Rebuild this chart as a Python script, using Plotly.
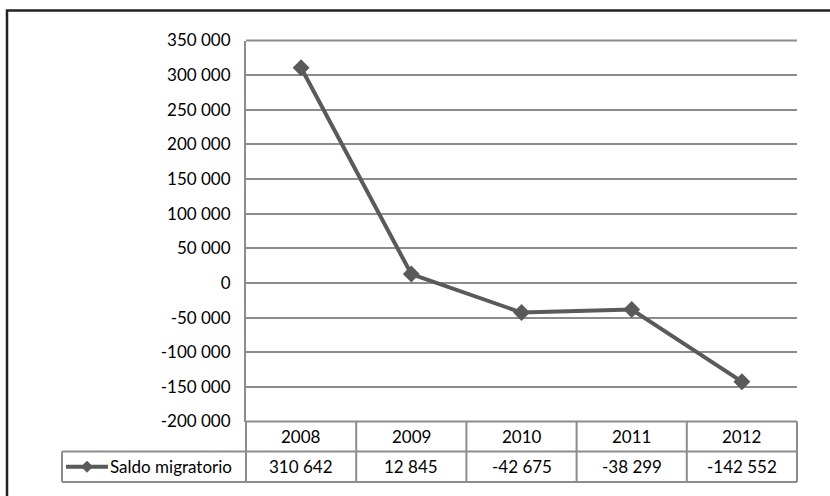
import plotly.graph_objects as go

# Net migration balance by year
years = ["2008", "2009", "2010", "2011", "2012"]
saldo = [310642, 12845, -42675, -38299, -142552]
series_name = "Saldo migratorio"
tick_vals = [350000, 300000, 250000, 200000, 150000, 100000, 50000, 0,
             -50000, -100000, -150000, -200000]

W, H = 830, 496
FONT = "Lato"
FSIZE = 17
LINE_C = "#5a5a5a"
GRID_C = "#8c8c8c"


def fmt(v):
    s = f"{abs(v):,}".replace(",", " ")
    return ("-" if v < 0 else "") + s


def px(x):
    return x / W


def py(y):
    return 1 - y / H


# plot-area pixel box
L, R, T, B = 246, 797, 40.5, 421.5
ROW1, ROW2 = 451.5, 482.0
LEG_L = 62

fig = go.Figure()
fig.add_trace(go.Scatter(
    x=list(range(len(years))), y=saldo, mode="lines+markers",
    line=dict(color=LINE_C, width=4),
    marker=dict(symbol="diamond", size=13, color=LINE_C),
    name=series_name, showlegend=False, hoverinfo="skip",
))

shapes = []
# outer chart frame (top and left edges visible)
shapes.append(dict(type="rect", xref="paper", yref="paper",
                   x0=px(7), x1=px(W + 20), y0=py(H + 20), y1=py(10.5),
                   line=dict(color="#222222", width=2.5)))

tl = dict(color=GRID_C, width=2)
# top gridline of the plot area
shapes.append(dict(type="line", xref="paper", yref="paper",
                   x0=px(L), x1=px(R), y0=py(T), y1=py(T), line=tl))

# data table grid
col_w = (R - L) / len(years)
shapes.append(dict(type="line", xref="paper", yref="paper",
                   x0=px(L), x1=px(R), y0=py(B), y1=py(B), line=tl))
shapes.append(dict(type="line", xref="paper", yref="paper",
                   x0=px(L), x1=px(R), y0=py(ROW1), y1=py(ROW1), line=tl))
shapes.append(dict(type="line", xref="paper", yref="paper",
                   x0=px(LEG_L), x1=px(L), y0=py(ROW1), y1=py(ROW1), line=tl))
shapes.append(dict(type="line", xref="paper", yref="paper",
                   x0=px(LEG_L), x1=px(R), y0=py(ROW2), y1=py(ROW2), line=tl))
shapes.append(dict(type="line", xref="paper", yref="paper",
                   x0=px(LEG_L), x1=px(LEG_L), y0=py(ROW1), y1=py(ROW2), line=tl))
for i in range(len(years) + 1):
    xx = L + i * col_w
    shapes.append(dict(type="line", xref="paper", yref="paper",
                       x0=px(xx), x1=px(xx), y0=py(B), y1=py(ROW2), line=tl))

# legend key inside the table
ky = (ROW1 + ROW2) / 2
shapes.append(dict(type="line", xref="paper", yref="paper",
                   x0=px(66), x1=px(108), y0=py(ky), y1=py(ky),
                   line=dict(color=LINE_C, width=4)))
cx, d = 87, 5.5
shapes.append(dict(type="path", xref="paper", yref="paper",
                   path=f"M {px(cx-d)} {py(ky)} L {px(cx)} {py(ky-d)} "
                        f"L {px(cx+d)} {py(ky)} L {px(cx)} {py(ky+d)} Z",
                   fillcolor=LINE_C, line=dict(color=LINE_C, width=1)))

annotations = []
tf = dict(family=FONT, size=FSIZE, color="#000000")
for i, (yr, v) in enumerate(zip(years, saldo)):
    xc = L + (i + 0.5) * col_w
    annotations.append(dict(xref="paper", yref="paper", x=px(xc), y=py((B + ROW1) / 2),
                            text=yr, showarrow=False, font=tf,
                            xanchor="center", yanchor="middle"))
    annotations.append(dict(xref="paper", yref="paper", x=px(xc), y=py(ky),
                            text=fmt(v), showarrow=False, font=tf,
                            xanchor="center", yanchor="middle"))
annotations.append(dict(xref="paper", yref="paper", x=px(108), y=py(ky),
                        text=series_name, showarrow=False, font=tf,
                        xanchor="left", yanchor="middle"))

fig.update_layout(
    width=W, height=H,
    margin=dict(l=0, r=0, t=0, b=0, autoexpand=False),
    paper_bgcolor="white", plot_bgcolor="white",
    xaxis=dict(domain=[px(L), px(R)], range=[-0.5, len(years) - 0.5],
               showticklabels=False, showgrid=False, zeroline=False,
               fixedrange=True, automargin=False),
    yaxis=dict(domain=[py(B), py(T)], range=[-200000, 350000],
               tickvals=tick_vals, ticktext=[fmt(v) for v in tick_vals],
               tickfont=tf,
               showgrid=True, gridcolor=GRID_C, gridwidth=2,
               zeroline=False, showline=True, linecolor=GRID_C, linewidth=2,
               ticks="", ticklabelstandoff=10, fixedrange=True,
               automargin=False),
    shapes=shapes,
    annotations=annotations,
    showlegend=False,
)

fig.write_html("out.html")
